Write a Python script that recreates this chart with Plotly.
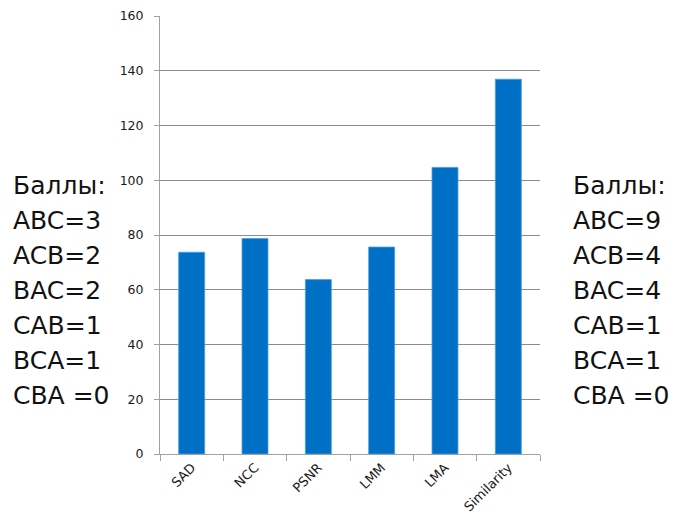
import plotly.graph_objects as go

methods = ["SAD", "NCC", "PSNR", "LMM", "LMA", "Similarity"]
scores = [73.7, 78.7, 63.7, 75.6, 104.7, 136.9]

left_points = ["Баллы:", "ABC=3", "ACB=2", "BAC=2", "CAB=1", "BCA=1", "CBA =0"]
right_points = ["Баллы:", "ABC=9", "ACB=4", "BAC=4", "CAB=1", "BCA=1", "CBA =0"]

W, H = 678, 525
fig = go.Figure(go.Bar(
    x=methods, y=scores,
    marker=dict(color="#0070C6", line=dict(color="#4a9be0", width=0.8)),
))

side_font = dict(family="DejaVu Sans", size=25, color="#111111")
annotations = []
for i, txt in enumerate(left_points):
    annotations.append(dict(
        text=txt, xref="paper", yref="paper", x=-160 / 380 + 11 / 380, xanchor="left",
        y=1 - (185 + 35 * i - 16) / 438, yanchor="middle",
        showarrow=False, font=side_font))
for i, txt in enumerate(right_points):
    annotations.append(dict(
        text=txt, xref="paper", yref="paper", x=(571 - 160) / 380, xanchor="left",
        y=1 - (185 + 35 * i - 16) / 438, yanchor="middle",
        showarrow=False, font=side_font))

fig.update_layout(
    width=W, height=H,
    margin=dict(l=160, r=138, t=16, b=71),
    paper_bgcolor="white", plot_bgcolor="white",
    bargap=0.59,
    showlegend=False,
    annotations=annotations,
    font=dict(family="DejaVu Sans", color="#222222"),
)
fig.update_yaxes(
    range=[0, 160], dtick=20, showgrid=True, gridcolor="#8c8c8c", gridwidth=1,
    showline=True, linecolor="#a0a0a0", linewidth=1, automargin=False,
    ticks="outside", ticklen=5, tickcolor="#a0a0a0", ticklabelstandoff=8,
    tickfont=dict(size=12.5, color="#1a1a1a"), zeroline=False,
)
fig.update_xaxes(
    showline=True, linecolor="#a0a0a0", linewidth=1, automargin=False,
    ticks="outside", ticklen=6, tickcolor="#a0a0a0", tickson="boundaries",
    tickangle=-45, tickfont=dict(size=13, color="#1a1a1a"),
)

fig.write_html("out.html")
